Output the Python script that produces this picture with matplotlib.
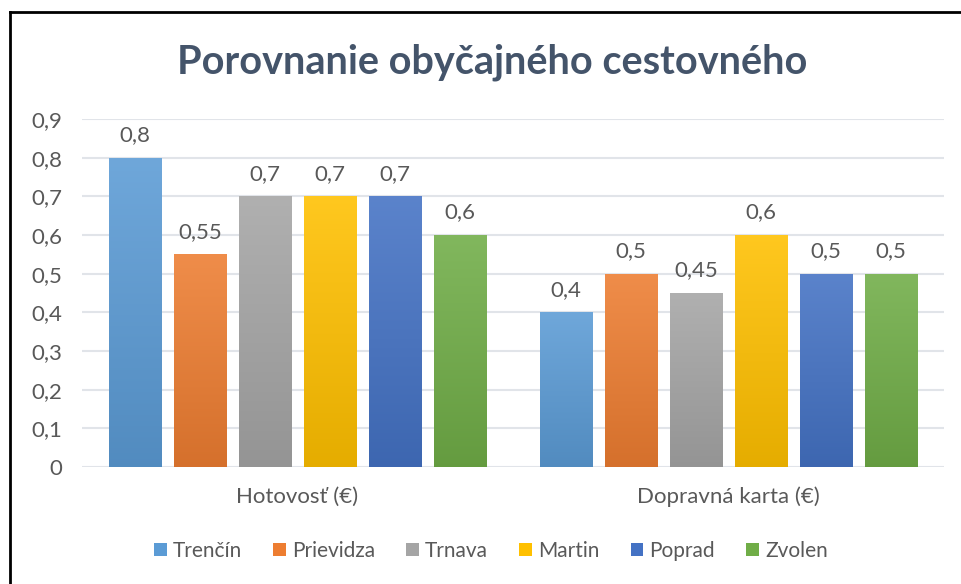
import matplotlib

matplotlib.use("Agg")
import matplotlib.pyplot as plt
import numpy as np
from matplotlib.colors import to_rgb
from matplotlib.lines import Line2D
from matplotlib.patches import Patch, Rectangle

plt.rcParams["font.family"] = ["Lato", "DejaVu Sans"]

CATEGORIES = ["Hotovosť (€)", "Dopravná karta (€)"]
CITIES = ["Trenčín", "Prievidza", "Trnava", "Martin", "Poprad", "Zvolen"]
TRENCIN = [0.8, 0.4]
PRIEVIDZA = [0.55, 0.5]
TRNAVA = [0.7, 0.45]
MARTIN = [0.7, 0.6]
POPRAD = [0.7, 0.5]
ZVOLEN = [0.6, 0.5]
SERIES = [TRENCIN, PRIEVIDZA, TRNAVA, MARTIN, POPRAD, ZVOLEN]
Y_TICKS = [0, 0.1, 0.2, 0.3, 0.4, 0.5, 0.6, 0.7, 0.8, 0.9]

COLORS = ["#5B9BD5", "#ED7D31", "#A5A5A5", "#FFC000", "#4472C4", "#70AD47"]
TEXT = "#595959"
GRID = "#E1E4E9"
FS = 16


def fmt(v):
    s = f"{v:.2f}".rstrip("0").rstrip(".")
    return s.replace(".", ",")


def gradient_bar(ax, x, width, height, color):
    base = np.array(to_rgb(color))
    top = base + (1 - base) * 0.12
    bottom = base * 0.9
    t = np.linspace(0, 1, 64)[:, None]
    img = top * (1 - t) + bottom * t
    img = img[:, None, :]
    rect = Rectangle((x, 0), width, height, facecolor="none", edgecolor="none")
    ax.add_patch(rect)
    im = ax.imshow(img, extent=(x, x + width, 0, height), aspect="auto",
                   origin="upper", zorder=2, interpolation="bilinear")
    im.set_clip_path(rect)


fig = plt.figure(figsize=(9.62, 5.84), dpi=100)
ax = fig.add_axes([82 / 962, 1 - 467 / 584, 862 / 962, 348 / 584])

bar_w = 0.1207
step = 0.1508
n = len(SERIES)
for i, (vals, color) in enumerate(zip(SERIES, COLORS)):
    for c, v in enumerate(vals):
        x0 = c + (i - (n - 1) / 2) * step - bar_w / 2
        gradient_bar(ax, x0, bar_w, v, color)
        ax.annotate(fmt(v), (x0 + bar_w / 2, v), xytext=(0, 9),
                    textcoords="offset points", ha="center", va="bottom",
                    fontsize=FS, color=TEXT)

ax.set_xlim(-0.5, 1.5)
ax.set_ylim(0, 0.9)
ax.set_yticks(Y_TICKS)
ax.set_yticklabels([fmt(v) for v in Y_TICKS], fontsize=FS, color=TEXT)
ax.set_xticks([0, 1])
ax.set_xticklabels(CATEGORIES, fontsize=FS, color=TEXT)
ax.tick_params(axis="both", length=0)
ax.tick_params(axis="y", pad=14)
ax.tick_params(axis="x", pad=14)
ax.grid(axis="y", color=GRID, linewidth=1.5, zorder=0)
ax.set_axisbelow(True)
for spine in ax.spines.values():
    spine.set_visible(False)

fig.text(492 / 962, 1 - 62 / 584, "Porovnanie obyčajného cestovného",
         ha="center", va="center", fontsize=28.5, fontweight="bold", color="#44546A")

handles = [Patch(facecolor=c, edgecolor="none") for c in COLORS]
fig.legend(handles, CITIES, loc="center", bbox_to_anchor=(491 / 962, 1 - 551 / 584),
           ncol=6, frameon=False, fontsize=15, handlelength=0.6, handleheight=0.6,
           handletextpad=0.3, columnspacing=1.5, labelcolor=TEXT)

# chart frame: top and left edges
fig.add_artist(Line2D([10 / 962, 1], [1 - 12 / 584] * 2, color="black", linewidth=2,
                      transform=fig.transFigure))
fig.add_artist(Line2D([10 / 962] * 2, [0, 1 - 12 / 584], color="black", linewidth=2,
                      transform=fig.transFigure))

fig.savefig("out.png", dpi=100)
